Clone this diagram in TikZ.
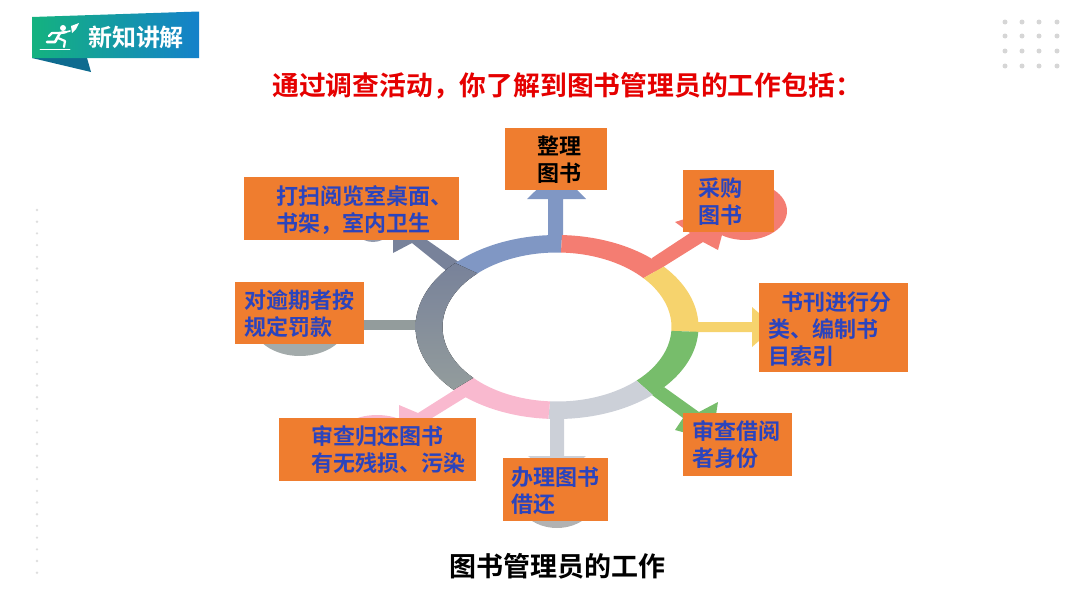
\documentclass[tikz,border=0pt]{standalone}
\usepackage{fontspec}
\setmainfont{Noto Sans CJK SC}[BoldFont={Noto Sans CJK SC Bold}]
\usepackage{tikz}
\usetikzlibrary{positioning}

\definecolor{boxorange}{HTML}{EF7D2F}
\definecolor{labelblue}{HTML}{2B44BD}
\definecolor{ringblue}{HTML}{8097C4}
\definecolor{ringred}{HTML}{F47D72}
\definecolor{ringyellow}{HTML}{F6D36D}
\definecolor{ringgreen}{HTML}{77BD6B}
\definecolor{ringsilver}{HTML}{CCD0D8}
\definecolor{ringpink}{HTML}{F9B9CF}
\definecolor{ringslate}{HTML}{78829A}
\definecolor{ringgray}{HTML}{939C9C}
\definecolor{bannergreen}{HTML}{14B27F}
\definecolor{bannerblue}{HTML}{1481CA}
\definecolor{bannertail}{HTML}{0E6B8F}

\tikzset{
    taskbox/.style={fill=boxorange, inner sep=0pt},
    tasklabel/.style={anchor=west, inner sep=0pt, align=left, text=labelblue,
        font=\fontsize{22}{27}\selectfont\bfseries},
    gridspot/.style={fill=black!16},
    sidespot/.style={fill=black!13}
}

% one piece of the ring: colour options, outer angles, inner angles
\newcommand{\ringpart}[5]{
    \fill[#1] plot[domain=#2:#3, samples=30] ({557+141.5*cos(\x)},{327+92*sin(\x)})
        -- plot[domain=#5:#4, samples=30] ({557+114.5*cos(\x)},{327+74.5*sin(\x)}) -- cycle;
}

\begin{document}
\begin{tikzpicture}[x=1pt, y=-1pt]
    \useasboundingbox (0,0) rectangle (1080,608);

    % Banner
    \fill[bannertail] (32,58) -- (87,58) -- (91,72) -- cycle;
    \shade[left color=bannergreen, right color=bannerblue] (32,17) -- (199,11.5) -- (199,58) -- (32,58) -- cycle;
    \node[text=white, font=\fontsize{24}{24}\selectfont\bfseries, inner sep=0pt] (banner) at (136,37) {新知讲解};
    % runner
    \fill[white] (63,28) circle (3);
    \draw[white, line width=2.6, line cap=round, line join=round] (66,32) -- (60,33) -- (55,42) -- (47,42);
    \draw[white, line width=2.2, line cap=round, line join=round] (60,33) -- (52,33) -- (49,36);
    \draw[white, line width=2.2, line cap=round, line join=round] (58,38) -- (65,41) -- (64,47);
    \draw[white, line width=1.6, line cap=round] (62,33) -- (70,31);
    \fill[white] (71,26) -- (79,23) -- (76,29) -- (72,33) -- cycle;
    \draw[white, line width=0.8, line cap=round] (40,49) -- (70,49);

    % Dots
    \foreach \px in {1005,1022,1039,1057}
        \foreach \py in {22,36,51,66}
            \fill[gridspot] (\px,\py) circle (2.5);
    \foreach \n in {0,...,31}
        \fill[sidespot] (37,{210+11.7*\n}) circle (1.3);

    % Title
    \node[text=red!90!black, font=\fontsize{26.8}{27}\selectfont\bfseries, inner sep=0pt, anchor=west] (title) at (272,86) {通过调查活动，你了解到图书管理员的工作包括：};

    % Blobs behind the boxes
    \fill[ringred] (745,211) ellipse (42 and 29);
    \fill[ringgray!85!white] (300,322) ellipse (48 and 34);
    \fill[ringslate!80!white] (373,215) ellipse (24 and 27);
    \fill[ringpink] (377,445) ellipse (45 and 30);
    \fill[black!30] (557,492) ellipse (42 and 36);

    % Arrows
    \fill[ringblue] (548,240) -- (548,199) -- (527,199) -- (557,170) -- (586,199) -- (563,199) -- (563,240) -- cycle;
    \fill[ringred] (652,258) -- (690,233) -- (675,222) -- (730,205) -- (718,250) -- (703,242) -- (655,272) -- cycle;
    \fill[ringyellow] (690,322) -- (752,322) -- (752,307) -- (775,327) -- (752,347) -- (752,332) -- (690,332) -- cycle;
    \fill[ringgreen] (664,387) -- (699,412) -- (718,402) -- (712,440) -- (675,430) -- (683,418) -- (652,395) -- cycle;
    \fill[ringsilver] (550,415) -- (550,456) -- (528,456) -- (557,480) -- (586,456) -- (564,456) -- (564,415) -- cycle;
    \fill[ringpink] (456,389) -- (418,413) -- (399,405) -- (399,430) -- (440,425) -- (432,418) -- (466,397) -- cycle;
    \fill[ringgray] (364,320) rectangle (420,330);
    \fill[ringslate] (427,240) -- (463,265) -- (448,272) -- (412,243) -- (393,253) -- (393,240) -- cycle;

    % Ring
    \ringpart{ringblue}{224}{272}{226}{272}
    \ringpart{ringred}{272}{319}{272}{319}
    \ringpart{ringyellow}{-41}{3}{-41}{3}
    \ringpart{ringgreen}{3}{47.5}{3}{46}
    \ringpart{ringsilver}{47.5}{93.5}{46}{93.5}
    \ringpart{ringpink}{93.5}{137}{93.5}{137}
    \ringpart{top color=ringslate, bottom color=ringgray}{137}{224}{137}{226}

    % Boxes
    \node[taskbox, minimum width=102, minimum height=62] (zhengli) at (556,159) {};
    \node[taskbox, minimum width=91, minimum height=62] (caigou) at (728.5,201) {};
    \node[taskbox, minimum width=149, minimum height=89] (bianmu) at (833.5,327.5) {};
    \node[taskbox, minimum width=109, minimum height=63] (shencha) at (737.5,444.5) {};
    \node[taskbox, minimum width=105, minimum height=63] (jiehuan) at (555.5,489.5) {};
    \node[taskbox, minimum width=197, minimum height=63] (guihuan) at (377.5,449.5) {};
    \node[taskbox, minimum width=129, minimum height=62] (fakuan) at (299.5,313) {};
    \node[taskbox, minimum width=215, minimum height=63] (dasao) at (351.5,208.5) {};

    % Box texts
    \node[tasklabel, text=black] (zhengli text) at (537,159.5) {整理\\图书};
    \node[tasklabel] (caigou text) at (698,202) {采购\\图书};
    \node[tasklabel] (bianmu text) at (768,329) {\hspace*{13pt}书刊进行分\\类、编制书\\目索引};
    \node[tasklabel] (shencha text) at (692.5,445) {审查借阅\\者身份};
    \node[tasklabel] (jiehuan text) at (511,490.5) {办理图书\\借还};
    \node[tasklabel] (guihuan text) at (311,450) {审查归还图书\\有无残损、污染};
    \node[tasklabel] (fakuan text) at (244,313.5) {对逾期者按\\规定罚款};
    \node[tasklabel] (dasao text) at (276,210) {打扫阅览室桌面、\\书架，室内卫生};

    % Caption
    \node[text=black, font=\fontsize{27}{27}\selectfont\bfseries, inner sep=0pt] (caption) at (557.5,566) {图书管理员的工作};
\end{tikzpicture}
\end{document}
